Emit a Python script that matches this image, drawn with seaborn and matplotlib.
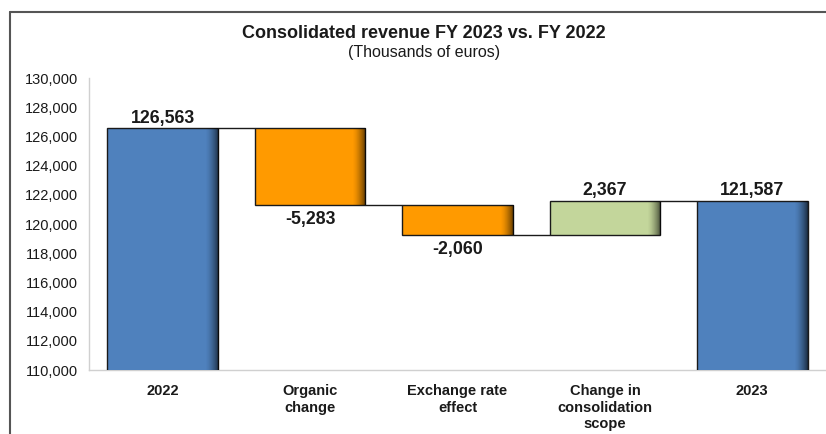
import numpy as np
import pandas as pd
import seaborn as sns
import matplotlib.pyplot as plt
from matplotlib.lines import Line2D

# data (thousands of euros)
categories = ["2022", "Organic\nchange", "Exchange rate\neffect",
              "Change in\nconsolidation\nscope", "2023"]
values = [126563, -5283, -2060, 2367, 121587]
is_total = [True, False, False, False, True]
bar_colors = ["#4F81BD", "#FF9A00", "#FF9A00", "#C3D69B", "#4F81BD"]
y_ticks = list(range(110000, 130001, 2000))

# waterfall geometry from the values
bottoms, heights, levels = [], [], []
level = 0
for v, tot in zip(values, is_total):
    if tot:
        bottoms.append(0)
        heights.append(v)
        level = v
    else:
        bottoms.append(min(level, level + v))
        heights.append(abs(v))
        level += v
    levels.append(level)

df = pd.DataFrame({"category": categories, "height": heights})

sns.set_theme(style="white")
plt.rcParams["font.family"] = ["Liberation Sans", "DejaVu Sans"]

fig = plt.figure(figsize=(8.26, 4.34), dpi=100)
ax = fig.add_axes([89 / 826, 1 - 370 / 434, 1 - 89 / 826, (370 - 78) / 434])

bar_w = 0.75
sns.barplot(data=df, x="category", y="height", bottom=bottoms, width=bar_w,
            color=bar_colors[0], edgecolor="#1a1a1a", linewidth=1.0, ax=ax,
            errorbar=None, zorder=2)

ax.set_xlim(-0.5, len(values) - 0.5)
ax.set_ylim(y_ticks[0], y_ticks[-1])
ymin = y_ticks[0]

# colour each bar and add the dark shading on its right edge
shade = np.zeros((1, 64, 4))
shade[0, :, 3] = np.linspace(0, 1, 64) ** 1.6 * 0.65
for patch, c in zip(ax.patches, bar_colors):
    patch.set_facecolor(c)
    x1 = patch.get_x() + patch.get_width()
    y0 = max(patch.get_y(), ymin)
    y1 = patch.get_y() + patch.get_height()
    im = ax.imshow(shade, extent=[x1 - 0.09, x1, y0, y1],
                   aspect="auto", zorder=2.5, interpolation="bilinear")
    im.set_clip_path(patch)

# connectors between bars
for i in range(len(values) - 1):
    ax.hlines(levels[i], i + bar_w / 2, i + 1 - bar_w / 2, color="#1a1a1a",
              linewidth=1.0, zorder=3)

# value labels
for i, (v, tot) in enumerate(zip(values, is_total)):
    top = bottoms[i] + heights[i]
    if tot or v > 0:
        ax.annotate(f"{v:,}", (i, top), xytext=(0, 1), textcoords="offset points",
                    ha="center", va="bottom", fontsize=12.8, fontweight="bold",
                    color="#1a1a1a")
    else:
        ax.annotate(f"{v:,}", (i, bottoms[i]), xytext=(0, -4),
                    textcoords="offset points", ha="center", va="top",
                    fontsize=12.8, fontweight="bold", color="#1a1a1a")

ax.set_xlim(-0.5, len(values) - 0.5)
ax.set_ylim(y_ticks[0], y_ticks[-1])
ax.set_yticks(y_ticks)
ax.yaxis.set_major_formatter(plt.FuncFormatter(lambda y, _: f"{int(y):,}"))
ax.tick_params(axis="y", length=0, pad=8, labelsize=10.5, labelcolor="#1a1a1a")
ax.tick_params(axis="x", length=0, pad=10, labelsize=10.5, labelcolor="#1a1a1a")
for lab in ax.get_xticklabels():
    lab.set_fontweight("bold")
    lab.set_linespacing(1.25)
ax.set_xlabel("")
ax.set_ylabel("")
for s in ["top", "right"]:
    ax.spines[s].set_visible(False)
for s in ["left", "bottom"]:
    ax.spines[s].set_color("#d0d0d0")
    ax.spines[s].set_linewidth(1.0)
    ax.spines[s].set_zorder(1)

fig.text(0.513, 1 - 33 / 434, "Consolidated revenue FY 2023 vs. FY 2022",
         ha="center", va="center", fontsize=13, fontweight="bold", color="#1a1a1a")
fig.text(0.513, 1 - 52 / 434, "(Thousands of euros)", ha="center", va="center",
         fontsize=11.5, color="#1a1a1a")

# outer frame (top and left edges visible)
fig.add_artist(Line2D([10 / 826, 1], [1 - 12 / 434, 1 - 12 / 434],
                      transform=fig.transFigure, color="#555555", linewidth=1.5))
fig.add_artist(Line2D([10 / 826, 10 / 826], [0, 1 - 12 / 434],
                      transform=fig.transFigure, color="#555555", linewidth=1.5))

fig.savefig("out.png", dpi=100)
